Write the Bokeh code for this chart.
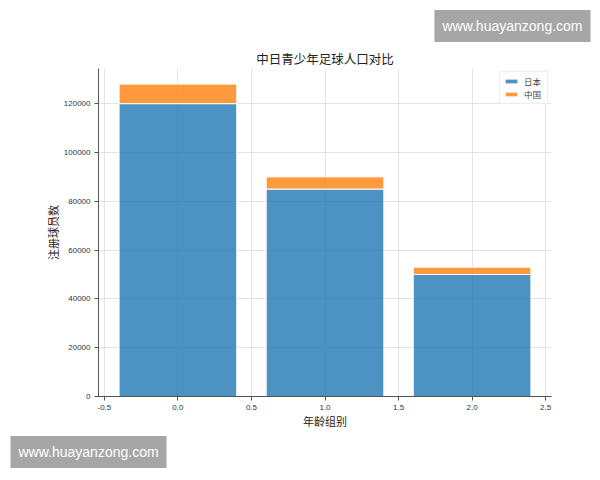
from bokeh.embed import file_html
from bokeh.models import ColumnDataSource, FixedTicker, NumeralTickFormatter, Range1d, Title
from bokeh.plotting import figure
from bokeh.resources import INLINE

# 数据
age_groups = [0, 1, 2]
japan = [120000, 85000, 50000]
china = [8000, 5000, 3000]
series_names = ["日本", "中国"]
colors = ["#1f77b4", "#ff7f0e"]
x_ticks = [-0.5, 0.0, 0.5, 1.0, 1.5, 2.0, 2.5]
y_ticks = [0, 20000, 40000, 60000, 80000, 100000, 120000]

CJK = "Noto Sans CJK SC"
WATERMARK = "www.huayanzong.com"

source = ColumnDataSource(data={"x": age_groups, "日本": japan, "中国": china})

p = figure(
    width=600,
    height=480,
    output_backend="svg",
    toolbar_location=None,
    x_range=Range1d(-0.54, 2.54),
    y_range=Range1d(0, 134400),
    min_border_left=98,
    min_border_right=49,
    min_border_top=68,
    min_border_bottom=84,
    title=None,
)
p.outline_line_color = None

p.vbar_stack(
    series_names,
    x="x",
    width=0.8,
    source=source,
    fill_color=colors,
    fill_alpha=0.8,
    line_color="white",
    line_width=1,
    legend_label=series_names,
)

main_title = Title(
    text="中日青少年足球人口对比",
    text_font=CJK,
    text_font_size="12.5px",
    text_font_style="normal",
    text_color="#222222",
    align="center",
    standoff=2,
)
p.add_layout(main_title, "above")

for ax in (p.xaxis, p.yaxis):
    ax.axis_line_color = "#555555"
    ax.major_tick_line_color = "#555555"
    ax.major_tick_out = 4
    ax.major_tick_in = 0
    ax.minor_tick_line_color = None
    ax.major_label_text_font = "Liberation Sans"
    ax.major_label_text_font_size = "8px"
    ax.major_label_text_color = "#333333"
    ax.major_label_standoff = 4
    ax.axis_label_text_font = CJK
    ax.axis_label_text_font_size = "11px"
    ax.axis_label_text_font_style = "normal"
    ax.axis_label_text_color = "#222222"
    ax.axis_label_standoff = 0

p.xaxis.ticker = FixedTicker(ticks=x_ticks)
p.xaxis.formatter = NumeralTickFormatter(format="0.0")
p.xaxis.axis_label = "年龄组别"
p.yaxis.ticker = FixedTicker(ticks=y_ticks)
p.yaxis.formatter = NumeralTickFormatter(format="0")
p.yaxis.axis_label = "注册球员数"

p.xgrid.grid_line_color = "#e3e3e3"
p.ygrid.grid_line_color = "#e3e3e3"

p.legend.location = "top_right"
p.legend.label_text_font = CJK
p.legend.label_text_font_size = "8.5px"
p.legend.label_text_line_height = 1.0
p.legend.glyph_width = 16
p.legend.glyph_height = 6
p.legend.label_height = 10
p.legend.spacing = 1
p.legend.padding = 3
p.legend.margin = 3
p.legend.border_line_color = "#dddddd"
p.legend.background_fill_alpha = 0.9

# 水印：右上角与左下角
for side, align, offset, standoff in [("above", "right", -39, 7), ("below", "left", -88, 5)]:
    p.add_layout(
        Title(
            text=WATERMARK,
            text_font="Liberation Sans",
            text_font_size="14px",
            text_font_style="normal",
            text_color="white",
            background_fill_color="#a6a6a6",
            padding=8,
            align=align,
            offset=offset,
            standoff=standoff,
        ),
        side,
    )

open("out.html", "w").write(file_html(p, INLINE))
